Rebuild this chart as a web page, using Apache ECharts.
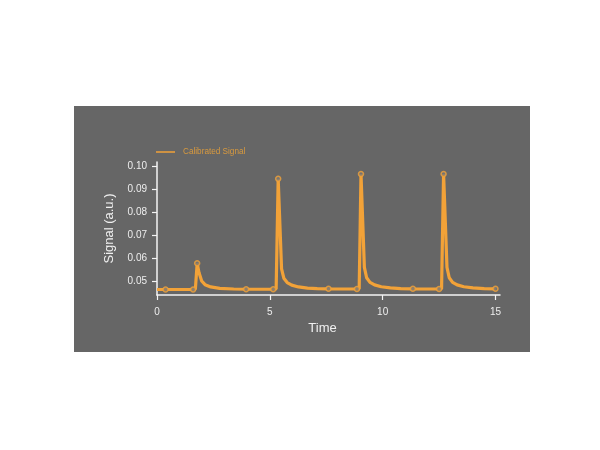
<!DOCTYPE html>
<html><head><meta charset="utf-8">
<script src="https://cdn.jsdelivr.net/npm/echarts@6/dist/echarts.min.js"></script>
<style>html,body{margin:0;padding:0;background:#fff}#c{width:600px;height:450px}</style>
</head><body><div id="c"></div>
<script>
const times = [0, 0.38, 0.8, 1.2, 1.6, 1.7, 1.78, 1.86, 1.98, 2.13, 2.38, 2.78, 3.4, 3.95, 4.5, 5.15, 5.28, 5.37, 5.52, 5.62, 5.77, 5.97, 6.27, 6.67, 7.1, 7.6, 8.2, 8.86, 8.96, 9.04, 9.19, 9.29, 9.44, 9.64, 9.94, 10.34, 10.8, 11.34, 11.9, 12.5, 12.61, 12.7, 12.85, 12.95, 13.1, 13.3, 13.6, 14.0, 14.5, 15];
const signal = [0.0466, 0.0466, 0.0466, 0.0466, 0.0466, 0.0467, 0.0580, 0.0540, 0.0503, 0.0487, 0.0477, 0.0471, 0.0468, 0.0467, 0.0467, 0.0467, 0.0468, 0.0947, 0.0556, 0.0515, 0.0496, 0.0485, 0.0477, 0.0472, 0.0470, 0.0469, 0.0468, 0.0468, 0.0469, 0.0968, 0.0562, 0.0517, 0.0497, 0.0486, 0.0478, 0.0473, 0.0470, 0.0469, 0.0468, 0.0468, 0.0469, 0.0968, 0.0562, 0.0517, 0.0497, 0.0486, 0.0478, 0.0473, 0.0470, 0.0469];
const markerIdx = [1, 4, 6, 13, 15, 17, 25, 27, 29, 37, 39, 41, 49];
const xTicks = [0, 5, 10, 15];
const yTicks = [0.05, 0.06, 0.07, 0.08, 0.09, 0.10];
const seriesName = 'Calibrated Signal';

const orange = '#f2a238';
const chart = echarts.init(document.getElementById('c'));
const lineData = times.map((t, i) => [t, signal[i]]);
const markData = markerIdx.map(i => [times[i], signal[i]]);
chart.setOption({
  backgroundColor: '#ffffff',
  animation: false,
  textStyle: { fontFamily: 'Liberation Sans, Arial, sans-serif' },
  graphic: [{ type: 'rect', z: -10, shape: { x: 74, y: 106, width: 456, height: 246 }, style: { fill: '#666666' } }],
  legend: {
    data: [{ name: seriesName, icon: 'rect' }], left: 156, top: 148, padding: 0, itemWidth: 19, itemHeight: 1.5,
    itemStyle: { color: orange },
    textStyle: { color: '#d99a3e', fontSize: 8.2, padding: [0, 0, 0, 3] }
  },
  grid: { left: 157, right: 100, top: 162, bottom: 155, containLabel: false },
  xAxis: {
    type: 'value', min: 0, max: 15.2,
    name: 'Time', nameLocation: 'middle', nameGap: 27,
    nameTextStyle: { color: '#f0f0f0', fontSize: 13, padding: [0, 12, 0, 0] },
    axisLine: { show: true, lineStyle: { color: '#f4f4f4', width: 1.5 } },
    axisTick: { show: true, length: 5, customValues: xTicks, lineStyle: { color: '#f4f4f4', width: 1.2 } },
    axisLabel: { customValues: xTicks, color: '#eeeeee', fontSize: 10, margin: 12 },
    splitLine: { show: false }
  },
  yAxis: {
    type: 'value', min: 0.0442, max: 0.102,
    name: 'Signal (a.u.)', nameLocation: 'middle', nameGap: 41, nameRotate: 90,
    nameTextStyle: { color: '#f0f0f0', fontSize: 13 },
    axisLine: { show: true, lineStyle: { color: '#f4f4f4', width: 1.5 } },
    axisTick: { show: true, length: 5, customValues: yTicks, lineStyle: { color: '#f4f4f4', width: 1.2 } },
    axisLabel: { customValues: yTicks, color: '#eeeeee', fontSize: 10, margin: 10, formatter: v => v.toFixed(2) },
    splitLine: { show: false }
  },
  series: [
    { name: seriesName, type: 'line', data: lineData, symbol: 'none', smooth: false,
      lineStyle: { color: orange, width: 3.2 }, itemStyle: { color: orange } },
    { name: 'markers', type: 'scatter', data: markData, symbol: 'circle', symbolSize: 5,
      itemStyle: { color: '#777', borderColor: orange, borderWidth: 1.5 }, z: 3 }
  ]
});
</script></body></html>
